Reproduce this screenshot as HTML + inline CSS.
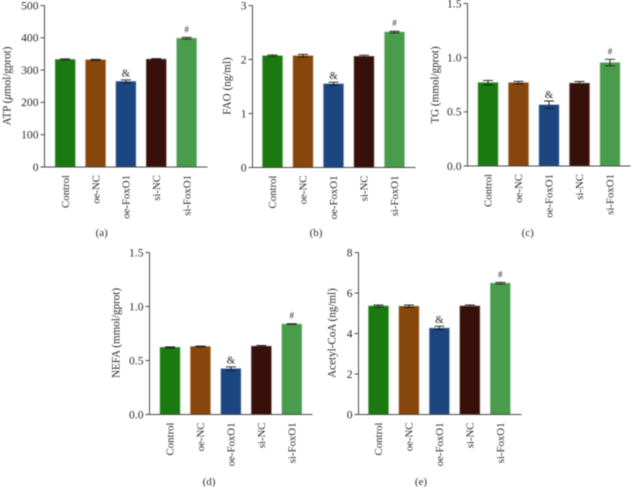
<!DOCTYPE html>
<html>
<head>
<meta charset="utf-8">
<title>Metabolite bar charts</title>
<style>
html,body{margin:0;padding:0;background:#fff;}
svg{display:block;filter:blur(0.4px);}
text{font-family:"Liberation Serif",serif;fill:#2b2b2b;}
</style>
</head>
<body>
<svg id="figure" width="631" height="487" viewBox="0 0 631 487" xmlns="http://www.w3.org/2000/svg"></svg>
<script>
const categories = ['Control', 'oe-NC', 'oe-FoxO1', 'si-NC', 'si-FoxO1'];
const markers = ['', '', '&', '', '#'];

const atpValues = [333, 332, 265, 334, 399];
const atpErrors = [2, 1.5, 5, 1.5, 2.5];
const atpTicks = ['0', '100', '200', '300', '400', '500'];

const faoValues = [2.07, 2.07, 1.55, 2.06, 2.51];
const faoErrors = [0.015, 0.025, 0.03, 0.02, 0.015];
const faoTicks = ['0', '1', '2', '3'];

const tgValues = [0.77, 0.77, 0.565, 0.765, 0.955];
const tgErrors = [0.02, 0.012, 0.035, 0.015, 0.03];
const tgTicks = ['0.0', '0.5', '1.0', '1.5'];

const nefaValues = [0.622, 0.63, 0.425, 0.633, 0.838];
const nefaErrors = [0.005, 0.004, 0.017, 0.006, 0.003];
const nefaTicks = ['0.0', '0.5', '1.0', '1.5'];

const acetylValues = [5.36, 5.35, 4.27, 5.36, 6.49];
const acetylErrors = [0.05, 0.06, 0.09, 0.05, 0.04];
const acetylTicks = ['0', '2', '4', '6', '8'];

const barColors = ['#1a7a10', '#87460b', '#1c4680', '#37100a', '#4a9c4d'];
const barEdges = ['#5fa658', '#b0835a', '#6f8fba', '#7d645f', '#8cc48e'];

const svg = document.getElementById('figure');
const NS = 'http://www.w3.org/2000/svg';

function make(tag, props, parent) {
  const el = document.createElementNS(NS, tag);
  for (const k in props) el.setAttribute(k, props[k]);
  parent.appendChild(el);
  return el;
}

function drawPanel(id, values, errors, ticks, title, caption, box) {
  const g = make('g', {}, svg);
  
  

  const yMax = parseFloat(ticks[ticks.length - 1]);
  const yMin = parseFloat(ticks[0]);
  const yScale = v => box.bottom - (v - yMin) / (yMax - yMin) * (box.bottom - box.top);
  const xScale = i => box.firstX + i * box.stepX;
  const axisColor = '#4a4a4a';

  values.forEach((v, i) => {
    const cx = xScale(i);
    const top = yScale(v);
    const bar = make('rect', {
      x: cx - 10, y: top, width: 20, height: box.bottom - top,
      fill: barColors[i], stroke: barEdges[i], 'stroke-width': 0.6
    }, g);
    
    

    const hi = yScale(v + errors[i]);
    const lo = yScale(v - errors[i]);
    const err = make('path', {
      d: 'M' + (cx - 5) + ' ' + hi + 'H' + (cx + 5) + 'M' + cx + ' ' + hi + 'V' + lo + 'M' + (cx - 5) + ' ' + lo + 'H' + (cx + 5),
      stroke: '#1c1c1c', 'stroke-width': 0.9, fill: 'none'
    }, g);
    
    

    if (markers[i]) {
      const isAmp = markers[i] === '&';
      const mark = make('text', {
        x: cx, y: hi - (isAmp ? 3.2 : 5), 'text-anchor': 'middle',
        'font-size': isAmp ? 11 : 9
      }, g);
      mark.textContent = markers[i];
      
      
    }

    const tickX = make('text', {
      transform: 'translate(' + (cx + 3.7) + ' ' + (box.bottom + 8) + ') rotate(-90)',
      'text-anchor': 'end', 'font-size': 10.8
    }, g);
    tickX.textContent = categories[i];
    
    
  });

  const yAxis = make('line', {
    x1: box.axisX, x2: box.axisX, y1: box.top, y2: box.bottom,
    stroke: axisColor, 'stroke-width': 1
  }, g);
  
  

  const xAxis = make('line', {
    x1: box.axisX - 4, x2: box.endX, y1: box.bottom, y2: box.bottom,
    stroke: axisColor, 'stroke-width': 1
  }, g);
  
  

  ticks.forEach(t => {
    const y = yScale(parseFloat(t));
    const mark = make('line', {
      x1: box.axisX - 4, x2: box.axisX, y1: y, y2: y,
      stroke: axisColor, 'stroke-width': 1
    }, g);
    
    

    const label = make('text', {
      x: box.axisX - 6, y: y + 3.8, 'text-anchor': 'end', 'font-size': 11.6
    }, g);
    label.textContent = t;
    
    
  });

  const yTitle = make('text', {
    transform: 'translate(' + (box.titleX + 3.7) + ' ' + box.titleY + ') rotate(-90)',
    'text-anchor': 'middle', 'font-size': 11.1
  }, g);
  title.forEach(part => {
    const span = make('tspan', part.italic ? { 'font-style': 'italic' } : {}, yTitle);
    span.textContent = part.text;
  });
  
  

  const cap = make('text', {
    x: box.captionX, y: box.captionY, 'text-anchor': 'middle', 'font-size': 11
  }, g);
  cap.textContent = caption;
  
  
}

drawPanel('atp', atpValues, atpErrors, atpTicks,
  [{ text: 'ATP (' }, { text: 'μ', italic: true }, { text: 'mol/gprot)' }], '(a)',
  { axisX: 44.5, endX: 207.5, top: 5.5, bottom: 167, firstX: 65.2, stepX: 30.35, titleX: 7, titleY: 86, captionX: 101.7, captionY: 236 });

drawPanel('fao', faoValues, faoErrors, faoTicks,
  [{ text: 'FAO (ng/ml)' }], '(b)',
  { axisX: 252.5, endX: 415.5, top: 5.5, bottom: 167.5, firstX: 272.5, stepX: 30.5, titleX: 226.7, titleY: 86, captionX: 316, captionY: 236 });

drawPanel('tg', tgValues, tgErrors, tgTicks,
  [{ text: 'TG (mmol/gprot)' }], '(c)',
  { axisX: 467.5, endX: 630.5, top: 3.5, bottom: 166, firstX: 488, stepX: 30.5, titleX: 435, titleY: 85, captionX: 527.7, captionY: 236 });

drawPanel('nefa', nefaValues, nefaErrors, nefaTicks,
  [{ text: 'NEFA (mmol/gprot)' }], '(d)',
  { axisX: 149.5, endX: 312.5, top: 252.5, bottom: 414.5, firstX: 170, stepX: 30.45, titleX: 115.7, titleY: 333, captionX: 209, captionY: 485 });

drawPanel('acetyl-coa', acetylValues, acetylErrors, acetylTicks,
  [{ text: 'Acetyl-CoA (ng/ml)' }], '(e)',
  { axisX: 358.5, endX: 521.5, top: 252.5, bottom: 414.5, firstX: 378.5, stepX: 30.45, titleX: 332, titleY: 333, captionX: 421, captionY: 485 });
</script>
</body>
</html>
